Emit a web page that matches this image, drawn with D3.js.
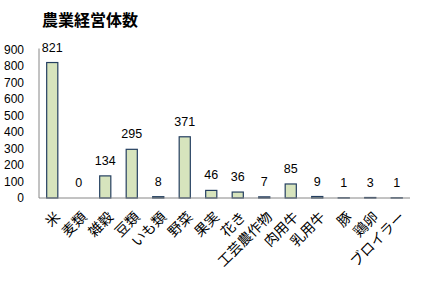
<!DOCTYPE html>
<html>
<head>
<meta charset="utf-8">
<script src="https://cdn.jsdelivr.net/npm/d3@7"></script>
<style>
  body { margin: 0; background: #fff; }
  text { font-family: "Liberation Sans", Arial, sans-serif; }
  .cjk { font-family: "Noto Sans CJK JP", sans-serif; }
</style>
</head>
<body>
<svg id="chart" width="421" height="281"></svg>
<script>
// data
const categories = ["米", "麦類", "雑穀", "豆類", "いも類", "野菜", "果実", "花き", "工芸農作物", "肉用牛", "乳用牛", "豚", "鶏卵", "ブロイラー"];
const counts = [821, 0, 134, 295, 8, 371, 46, 36, 7, 85, 9, 1, 3, 1];
const yTicks = [0, 100, 200, 300, 400, 500, 600, 700, 800, 900];

const svg = d3.select("#chart");
const plotLeft = 39, plotRight = 410, plotTop = 49.5, plotBottom = 198;

var x = d3.scaleBand().domain(categories).range([plotLeft, plotRight]).paddingInner(0.58).paddingOuter(0.29);
var y = d3.scaleLinear().domain([0, 900]).range([plotBottom, plotTop]);

// title
svg.append("text")
    .attr("class", "cjk")
    .attr("x", 42).attr("y", 26)
    .attr("font-size", 16).attr("font-weight", "bold")
    .text("農業経営体数");

// y axis (labels only + line)
svg.append("line")
    .attr("x1", plotLeft).attr("x2", plotLeft)
    .attr("y1", plotTop - 1).attr("y2", plotBottom)
    .attr("stroke", "#868686");

svg.selectAll(".ytick")
    .data(yTicks)
    .enter().append("text")
    .attr("class", "ytick")
    .attr("x", 24).attr("y", d => y(d))
    .attr("dy", "0.35em")
    .attr("text-anchor", "end")
    .attr("font-size", 12)
    .text(d => d);

// bars
svg.selectAll(".bar")
    .data(counts)
    .enter().append("rect")
    .attr("class", "bar")
    .attr("x", (d, i) => x(categories[i]))
    .attr("y", d => y(d))
    .attr("width", x.bandwidth())
    .attr("height", d => plotBottom - y(d))
    .attr("fill", "#d7e4bd")
    .attr("stroke", "#243f60")
    .attr("stroke-width", 1.2);

// baseline
svg.append("line")
    .attr("x1", plotLeft).attr("x2", plotRight)
    .attr("y1", plotBottom).attr("y2", plotBottom)
    .attr("stroke", "#868686");

// value labels
svg.selectAll(".val")
    .data(counts)
    .enter().append("text")
    .attr("class", "val")
    .attr("x", (d, i) => x(categories[i]) + x.bandwidth() / 2)
    .attr("y", d => y(d) - 11)
    .attr("text-anchor", "middle")
    .attr("font-size", 12.5)
    .text(d => d);

// category labels, rotated
svg.selectAll(".cat")
    .data(categories)
    .enter().append("text")
    .attr("class", "cjk")
    .attr("font-size", 14)
    .attr("text-anchor", "end")
    .attr("transform", d => `translate(${x(d) + x.bandwidth() / 2 + 1},${plotBottom + 12}) rotate(-45)`)
    .attr("dy", "0.8em")
    .text(d => d);
</script>
</body>
</html>
